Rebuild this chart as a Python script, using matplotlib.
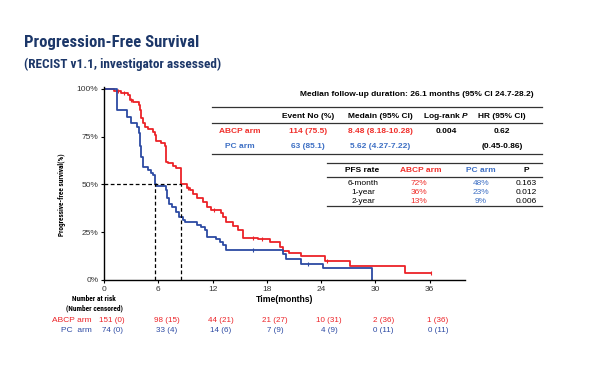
import matplotlib
matplotlib.use("Agg")
import matplotlib.pyplot as plt
from matplotlib.lines import Line2D

# Kaplan-Meier steps (months, survival fraction)
abcp_t = [0, 1.1, 1.9, 2.6, 2.9, 3.2, 3.9, 4.0, 4.1, 4.3, 4.5, 4.85, 5.4, 5.6, 5.7,
          6.3, 6.7, 6.8, 7.05, 7.6, 8.0, 8.48, 9.2, 9.5, 9.8, 10.3, 10.9, 11.4, 11.8,
          12.9, 13.1, 13.5, 14.3, 14.8, 15.4, 17.0, 18.3, 19.4, 19.8, 20.5, 21.8,
          24.4, 27.2, 33.3, 36.1]
abcp_s = [1.0, 0.99, 0.98, 0.97, 0.94, 0.93, 0.915, 0.89, 0.85, 0.82, 0.80, 0.79, 0.775,
          0.76, 0.73, 0.715, 0.70, 0.62, 0.61, 0.597, 0.585, 0.50, 0.48, 0.47, 0.45, 0.43,
          0.41, 0.38, 0.365, 0.353, 0.33, 0.305, 0.285, 0.26, 0.22, 0.215, 0.197, 0.171,
          0.154, 0.14, 0.127, 0.101, 0.075, 0.037, 0.037]
pc_t = [0, 1.4, 2.5, 3.0, 3.7, 3.85, 4.0, 4.1, 4.3, 4.9, 5.2, 5.4, 5.62, 5.8, 6.9, 7.0,
        7.2, 7.5, 8.0, 8.3, 8.7, 9.0, 10.3, 10.7, 11.2, 11.4, 12.4, 12.8, 13.1, 13.5,
        19.8, 20.1, 21.8, 24.2, 29.6]
pc_s = [1.0, 0.89, 0.855, 0.82, 0.80, 0.77, 0.70, 0.646, 0.59, 0.575, 0.56, 0.55, 0.50,
        0.49, 0.469, 0.43, 0.40, 0.38, 0.356, 0.33, 0.313, 0.304, 0.29, 0.278, 0.26,
        0.226, 0.217, 0.20, 0.182, 0.155, 0.136, 0.11, 0.084, 0.061, 0.0]

abcp_cens_t = [1.5, 2.2, 3.0, 9.3, 12.2, 16.5, 17.5, 24.7, 36.1]
pc_cens_t = [16.5, 22.5]

median_abcp = 8.48
median_pc = 5.62

risk_times = [0, 6, 12, 18, 24, 30, 36]
abcp_risk = ["151 (0)", "98 (15)", "44 (21)", "21 (27)", "10 (31)", "2 (36)", "1 (36)"]
pc_risk = ["74 (0)", "33 (4)", "14 (6)", "7 (9)", "4 (9)", "0 (11)", "0 (11)"]

tab_header = ["Event No (%)", "Medain (95% CI)", "Log-rank $\\it{P}$", "HR (95% CI)"]
tab_abcp = ["114 (75.5)", "8.48 (8.18-10.28)", "0.004", "0.62"]
tab_pc = ["63 (85.1)", "5.62 (4.27-7.22)", "", "(0.45-0.86)"]

pfs_labels = ["6-month", "1-year", "2-year"]
pfs_abcp = ["72%", "36%", "13%"]
pfs_pc = ["48%", "23%", "9%"]
pfs_p = ["0.163", "0.012", "0.006"]

RED = "#ec2227"
BLUE = "#2c4aa3"
TRED = "#f0302c"
TBLUE = "#3d6fc4"
NAVY = "#1c3769"
COND = ["Roboto Condensed", "Archivo Narrow", "PT Sans Narrow", "Fira Sans Condensed",
        "Barlow Condensed", "Liberation Sans"]

plt.rcParams["font.family"] = ["Liberation Sans", "DejaVu Sans"]
plt.rcParams["mathtext.fontset"] = "custom"
plt.rcParams["mathtext.it"] = "Liberation Sans:italic:bold"

W, H = 600, 365
fig = plt.figure(figsize=(6, 3.65), dpi=100)


def fx(px):
    return px / W


def fy(py):
    return 1 - py / H


def at(t, times, vals):
    v = vals[0]
    for ti, si in zip(times, vals):
        if ti <= t:
            v = si
    return v


ax = fig.add_axes([fx(104), fy(280), fx(465) - fx(104), fy(86.7) - fy(280)])
ax.step(abcp_t, abcp_s, where="post", color=RED, lw=1.3)
ax.step(pc_t, pc_s, where="post", color=BLUE, lw=1.3)
ax.plot(abcp_cens_t, [at(t, abcp_t, abcp_s) for t in abcp_cens_t], "|", color=RED, ms=3, mew=0.8)
ax.plot(pc_cens_t, [at(t, pc_t, pc_s) for t in pc_cens_t], "|", color=BLUE, ms=3, mew=0.8)

# median lines
dash = (0, (3, 2))
ax.plot([0, median_abcp], [0.5, 0.5], color="black", ls=dash, lw=0.9)
ax.plot([median_pc, median_pc], [0, 0.5], color="black", ls=dash, lw=0.9)
ax.plot([median_abcp, median_abcp], [0, 0.5], color="black", ls=dash, lw=0.9)

ax.set_xlim(0, 39.9)
ax.set_ylim(0, 1.012)
ax.set_xticks(risk_times)
ax.set_yticks([0, 0.25, 0.5, 0.75, 1.0])
ax.set_yticklabels(["0%", "25%", "50%", "75%", "100%"])
ax.tick_params(labelsize=6, length=2.5, width=0.8, pad=1.5, labelcolor="#333333")
for side in ["top", "right"]:
    ax.spines[side].set_visible(False)
for side in ["left", "bottom"]:
    ax.spines[side].set_linewidth(1.0)
ax.set_xlabel("Time(months)", fontsize=6.2, fontweight="bold", labelpad=2)
ax.set_ylabel("Progressive-free survival(%)", fontsize=5.2, family=COND, fontweight="bold",
              labelpad=3)
ax.yaxis.set_label_coords(-0.106, 0.44)

# titles
fig.text(fx(24), fy(47), "Progression-Free Survival", fontsize=12, fontweight="bold",
         color=NAVY, family=COND, va="baseline")
fig.text(fx(24), fy(68), "(RECIST v1.1, investigator assessed)", fontsize=9.5,
         fontweight="bold", color=NAVY, family=COND, va="baseline")

# summary table
fs = 6
fig.text(fx(417), fy(95), "Median follow-up duration: 26.1 months (95% CI 24.7-28.2)",
         fontsize=fs, fontweight="bold", ha="center", va="center")
for py in [107, 123, 154]:
    fig.add_artist(Line2D([fx(212), fx(542)], [fy(py), fy(py)], color="#333333", lw=0.9))
cols = [308, 380, 446, 502]
for cx, h, a, p in zip(cols, tab_header, tab_abcp, tab_pc):
    fig.text(fx(cx), fy(116), h, fontsize=fs, fontweight="bold", ha="center", va="center")
    fig.text(fx(cx), fy(131.5), a, fontsize=fs, fontweight="bold", ha="center", va="center",
             color=TRED if cx < 420 else "black")
    fig.text(fx(cx), fy(146.5), p, fontsize=fs, fontweight="bold", ha="center", va="center",
             color=TBLUE if cx < 420 else "black")
fig.text(fx(240), fy(131.5), "ABCP arm", fontsize=fs, fontweight="bold", ha="center",
         va="center", color=TRED)
fig.text(fx(240), fy(146.5), "PC arm", fontsize=fs, fontweight="bold", ha="center",
         va="center", color=TBLUE)

# PFS rate table
for py in [163, 176.5, 206.5]:
    fig.add_artist(Line2D([fx(327), fx(542)], [fy(py), fy(py)], color="#333333", lw=0.9))
fig.text(fx(362), fy(171), "PFS rate", fontsize=fs, fontweight="bold", ha="center", va="center")
fig.text(fx(421), fy(171), "ABCP arm", fontsize=fs, fontweight="bold", ha="center",
         va="center", color=TRED)
fig.text(fx(481), fy(171), "PC arm", fontsize=fs, fontweight="bold", ha="center",
         va="center", color=TBLUE)
fig.text(fx(526), fy(171), "P", fontsize=fs, fontweight="bold", ha="center", va="center")
for i, py in enumerate([183, 192.3, 201.5]):
    fig.text(fx(363), fy(py), pfs_labels[i], fontsize=fs, ha="center", va="center")
    fig.text(fx(419), fy(py), pfs_abcp[i], fontsize=fs, ha="center", va="center", color=TRED)
    fig.text(fx(481), fy(py), pfs_pc[i], fontsize=fs, ha="center", va="center", color=TBLUE)
    fig.text(fx(526), fy(py), pfs_p[i], fontsize=fs, ha="center", va="center")

# number at risk
fig.text(fx(94), fy(299), "Number at risk", fontsize=5.3, fontweight="bold", ha="center",
         va="center", family=COND)
fig.text(fx(94), fy(308.5), "(Number censored)", fontsize=5.3, fontweight="bold",
         ha="center", va="center", family=COND)
fig.text(fx(92), fy(321), "ABCP arm", fontsize=6, ha="right", va="center", color=RED)
fig.text(fx(92), fy(330), "PC  arm", fontsize=6, ha="right", va="center", color=BLUE)
for t, a, p in zip(risk_times, abcp_risk, pc_risk):
    x = ax.transData.transform((t + 0.9, 0))[0] / fig.dpi / fig.get_figwidth()
    fig.text(x, fy(321), a, fontsize=5.8, ha="center", va="center", color=RED)
    fig.text(x, fy(330), p, fontsize=5.8, ha="center", va="center", color=BLUE)

fig.savefig("out.png", dpi=100)
